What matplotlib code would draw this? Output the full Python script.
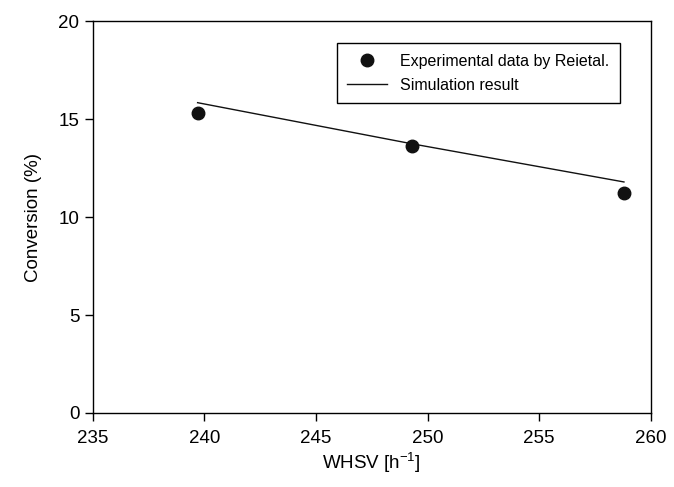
import matplotlib
matplotlib.use("Agg")
from matplotlib import pyplot as plt

plt.rcParams['font.family'] = ['Liberation Sans', 'DejaVu Sans']
plt.rcParams['mathtext.fontset'] = 'custom'
plt.rcParams['mathtext.rm'] = 'Liberation Sans'
plt.rcParams['mathtext.default'] = 'regular'

# experimental points
whsv_exp = [239.7, 249.3, 258.8]
conv_exp = [15.3, 13.65, 11.25]

# simulation line
whsv_sim = [239.7, 249.3, 258.8]
conv_sim = [15.85, 13.75, 11.8]

xticks = [235, 240, 245, 250, 255, 260]
yticks = [0, 5, 10, 15, 20]

fig = plt.figure(figsize=(6.74, 4.87), dpi=100)
ax = fig.add_axes([0.1375, 0.152, 0.828, 0.804])

ax.plot(whsv_exp, conv_exp, 'o', color='#111111', markersize=9, linestyle='none',
        label='Experimental data by Reietal.')
ax.plot(whsv_sim, conv_sim, '-', color='#111111', linewidth=1.0, label='Simulation result')

ax.set_xlim(235, 260)
ax.set_ylim(0, 20)
ax.set_xticks(xticks)
ax.set_yticks(yticks)
ax.tick_params(direction='out', length=6, labelsize=13.5, width=1)
ax.tick_params(axis='x', pad=6)
for s in ax.spines.values():
    s.set_linewidth(1)

ax.set_xlabel('WHSV [h$^{-1}$]', fontsize=13.5, labelpad=3)
ax.set_ylabel('Conversion (%)', fontsize=13.5, labelpad=12)

leg = ax.legend(loc='upper left', bbox_to_anchor=(0.437, 0.944), fontsize=11.5,
                frameon=True, fancybox=False, edgecolor='black', framealpha=1,
                borderpad=0.65, borderaxespad=0, handlelength=2.5, handletextpad=0.85,
                labelspacing=0.55)
leg.get_frame().set_linewidth(1)

fig.savefig('out.png', dpi=100)
